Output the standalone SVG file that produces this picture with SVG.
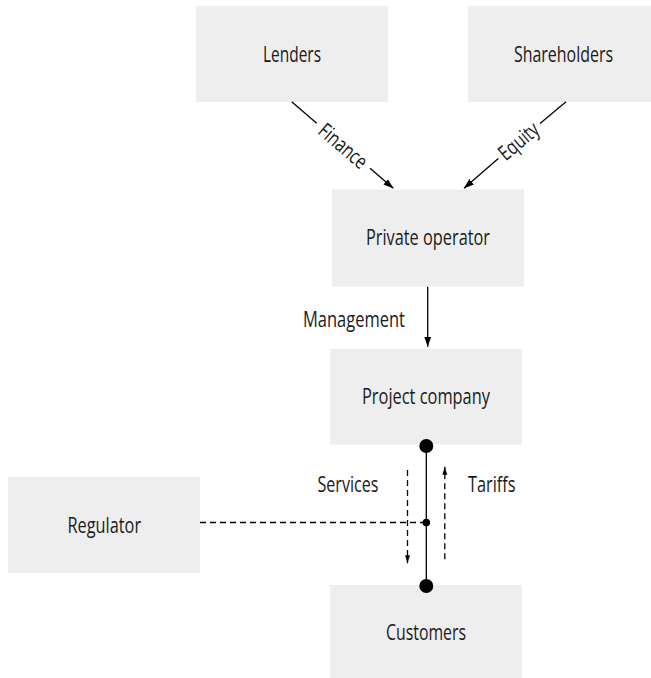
<svg xmlns="http://www.w3.org/2000/svg" width="651" height="678" viewBox="0 0 651 678">
<style>
.box{fill:#eeeeee;stroke:none}
.lbl{font-family:"Open Sans","Noto Sans","Liberation Sans",sans-serif;font-size:21px;fill:#1a1a1a;text-anchor:middle}
.st{text-anchor:start}
.ln{fill:none;stroke:#000;stroke-width:1.3}
.dash{fill:none;stroke:#000;stroke-width:1.3;stroke-dasharray:6 4}
</style>
<defs>
<marker id="arr" markerUnits="userSpaceOnUse" markerWidth="11" markerHeight="8" refX="10" refY="3.5" orient="auto">
<path d="M0,0 L10,3.5 L0,7 z" fill="#000"/>
</marker>
<marker id="arrs" markerUnits="userSpaceOnUse" markerWidth="9" markerHeight="6" refX="8" refY="2.5" orient="auto">
<path d="M0,0 L8,2.5 L0,5 z" fill="#000"/>
</marker>
</defs>
<rect width="651" height="678" fill="#fff"/>
<g id="lenders"><rect class="box" x="196" y="6" width="192" height="96"/><text class="lbl" x="292" y="61.7" textLength="58" lengthAdjust="spacingAndGlyphs">Lenders</text></g>
<g id="shareholders"><rect class="box" x="468" y="6" width="192" height="96"/><text class="lbl" x="563.5" y="61.7" textLength="99" lengthAdjust="spacingAndGlyphs">Shareholders</text></g>
<g id="private-operator"><rect class="box" x="332" y="189.5" width="192" height="97"/><text class="lbl" x="428" y="245.3" textLength="124" lengthAdjust="spacingAndGlyphs">Private operator</text></g>
<g id="project-company"><rect class="box" x="330" y="349" width="192" height="95.5"/><text class="lbl" x="426" y="403.5" textLength="128" lengthAdjust="spacingAndGlyphs">Project company</text></g>
<g id="regulator"><rect class="box" x="8" y="477" width="192" height="96"/><text class="lbl" x="104.3" y="532.7" textLength="73.5" lengthAdjust="spacingAndGlyphs">Regulator</text></g>
<g id="customers"><rect class="box" x="330" y="585" width="192" height="96"/><text class="lbl" x="426" y="639.5" textLength="80" lengthAdjust="spacingAndGlyphs">Customers</text></g>
<g id="connectors">
<line class="ln" x1="291.7" y1="101.7" x2="316.7" y2="123.3"/>
<line class="ln" x1="370" y1="168.3" x2="393.3" y2="188.3" marker-end="url(#arr)"/>
<text class="lbl" transform="translate(343.3,145.8) rotate(40.45)" x="0" y="7.5" textLength="57" lengthAdjust="spacingAndGlyphs">Finance</text>
<line class="ln" x1="566" y1="101.7" x2="540" y2="123.5"/>
<line class="ln" x1="498.3" y1="158.5" x2="464" y2="188.3" marker-end="url(#arr)"/>
<text class="lbl" transform="translate(518.5,141) rotate(-40.4)" x="0" y="7.5" textLength="46" lengthAdjust="spacingAndGlyphs">Equity</text>
<line class="ln" x1="427.7" y1="286.7" x2="427.7" y2="346.7" marker-end="url(#arr)"/>
<text class="lbl st" x="303" y="326.7" textLength="102" lengthAdjust="spacingAndGlyphs">Management</text>
<line class="ln" x1="426.3" y1="446" x2="426.3" y2="586"/>
<circle cx="426.3" cy="446" r="7" fill="#000"/>
<circle cx="426.3" cy="586" r="7" fill="#000"/>
<line class="dash" x1="200" y1="522.5" x2="426.3" y2="522.5"/>
<circle cx="426.3" cy="522.5" r="3.8" fill="#000"/>
<line class="dash" x1="407.5" y1="470" x2="407.5" y2="563.3" marker-end="url(#arrs)"/>
<line class="dash" x1="444.8" y1="559.3" x2="444.8" y2="466.7" marker-end="url(#arrs)"/>
<text class="lbl st" x="317.5" y="491.7" textLength="61" lengthAdjust="spacingAndGlyphs">Services</text>
<text class="lbl st" x="468" y="491.7" textLength="47.5" lengthAdjust="spacingAndGlyphs">Tariffs</text>
</g>
</svg>
